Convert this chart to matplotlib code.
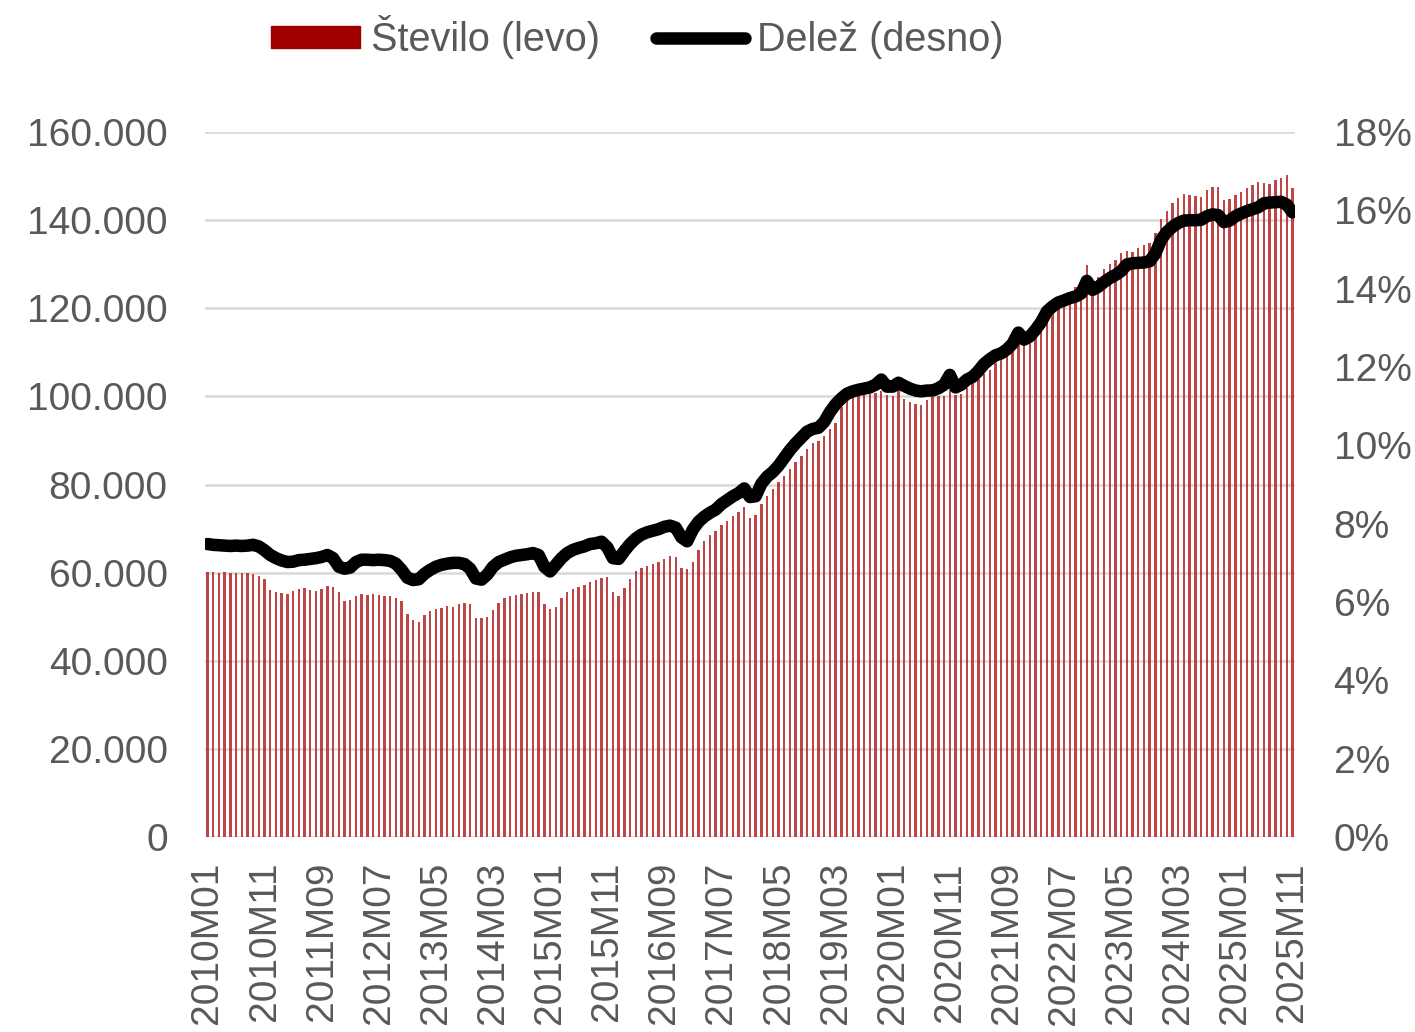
import matplotlib.pyplot as plt
from matplotlib.patches import Patch
import numpy as np

plt.rcParams['font.family'] = ['Liberation Sans', 'DejaVu Sans']

# monthly data 2010M01 .. 2025M11
stevilo = [
    # 2010
    60200, 60100, 60000, 60100, 60000, 60000, 59900, 59900, 59800, 59200, 58500, 56000,
    # 2011
    55600, 55300, 55200, 55800, 56200, 56500, 56000, 55900, 56200, 57000, 56800, 55500,
    # 2012
    53500, 53800, 54800, 55200, 55000, 55200, 54900, 54600, 54600, 54300, 53500, 50500,
    # 2013
    49300, 48800, 50300, 51200, 51800, 52000, 52500, 52300, 52800, 53200, 52800, 49800,
    # 2014
    49600, 50000, 51500, 53200, 54300, 54800, 55000, 55200, 55300, 55600, 55500, 52800,
    # 2015
    51800, 52300, 54200, 55500, 56200, 56800, 57200, 57800, 58300, 58800, 59000, 55500,
    # 2016
    54800, 56500, 58500, 60300, 61000, 61500, 62000, 62500, 63200, 63800, 63500, 61000,
    # 2017
    60800, 62500, 65200, 67200, 68500, 69500, 70800, 71800, 72800, 73800, 74800, 72500,
    # 2018
    73000, 75500, 77300, 79000, 80500, 82000, 83500, 85000, 86500, 88000, 89500, 89800,
    # 2019
    91000, 92500, 94000, 97500, 99000, 99800, 100200, 100500, 100600, 100800, 101200, 100400,
    # 2020
    100200, 101500, 99500, 98800, 98300, 98000, 99200, 99800, 100000, 100200, 101500, 100300,
    # 2021
    100500, 102000, 103000, 104000, 105000, 106000, 107500, 108500, 110000, 111000, 112500, 111800,
    # 2022
    113000, 114500, 116000, 117800, 119500, 121500, 121000, 123500, 124800, 125500, 129800, 126200,
    # 2023
    127000, 129000, 130000, 131000, 132500, 133000, 132800, 133800, 134300, 134800, 137000, 140300,
    # 2024
    142000, 143900, 145000, 146000, 145800, 145600, 145200, 146800, 147500, 147600, 144600, 144800,
    # 2025
    145700, 146500, 147300, 148000, 148700, 148500, 148200, 149200, 149600, 150200, 147300,
]

delez = [
    # 2010
    7.48, 7.46, 7.45, 7.44, 7.43, 7.44, 7.43, 7.44, 7.46, 7.42, 7.32, 7.20,
    # 2011
    7.12, 7.06, 7.02, 7.03, 7.07, 7.08, 7.10, 7.12, 7.15, 7.20, 7.12, 6.90,
    # 2012
    6.85, 6.88, 7.02, 7.08, 7.08, 7.07, 7.08, 7.07, 7.05, 6.98, 6.82, 6.62,
    # 2013
    6.56, 6.58, 6.72, 6.82, 6.90, 6.95, 6.98, 7.00, 7.00, 6.97, 6.85, 6.60,
    # 2014
    6.57, 6.70, 6.90, 7.02, 7.08, 7.14, 7.18, 7.20, 7.22, 7.25, 7.20, 6.90,
    # 2015
    6.78, 6.95, 7.12, 7.25, 7.33, 7.38, 7.42, 7.48, 7.50, 7.54, 7.40, 7.12,
    # 2016
    7.10, 7.30, 7.48, 7.62, 7.72, 7.78, 7.82, 7.86, 7.92, 7.95, 7.90, 7.65,
    # 2017
    7.55, 7.85, 8.05, 8.18, 8.28, 8.36, 8.50, 8.60, 8.70, 8.78, 8.90, 8.68,
    # 2018
    8.70, 9.02, 9.20, 9.32, 9.48, 9.68, 9.88, 10.05, 10.20, 10.35, 10.42, 10.45,
    # 2019
    10.60, 10.85, 11.05, 11.20, 11.32, 11.38, 11.42, 11.45, 11.48, 11.55, 11.68, 11.50,
    # 2020
    11.50, 11.60, 11.52, 11.45, 11.40, 11.38, 11.40, 11.40, 11.46, 11.55, 11.80, 11.48,
    # 2021
    11.55, 11.68, 11.75, 11.90, 12.08, 12.20, 12.30, 12.35, 12.45, 12.60, 12.88, 12.70,
    # 2022
    12.78, 12.95, 13.15, 13.42, 13.55, 13.65, 13.70, 13.76, 13.80, 13.88, 14.20, 13.97,
    # 2023
    14.05, 14.17, 14.27, 14.35, 14.45, 14.62, 14.65, 14.66, 14.67, 14.70, 14.90, 15.25,
    # 2024
    15.45, 15.58, 15.68, 15.74, 15.75, 15.75, 15.76, 15.85, 15.90, 15.88, 15.70, 15.74,
    # 2025
    15.85, 15.92, 15.98, 16.03, 16.08, 16.18, 16.20, 16.21, 16.22, 16.15, 15.95,
]

labels = [f"{2010 + k // 12}M{k % 12 + 1:02d}" for k in range(len(stevilo))]
x = np.arange(len(stevilo))

grey = '#595959'
red = '#a00000'
fs = 28

fig = plt.figure(figsize=(14.15, 10.32), dpi=100)
ax = fig.add_axes([0.145, 0.189, 0.770, 0.683])
ax2 = ax.twinx()

ax.bar(x, stevilo, width=0.42, color='#b01818', alpha=0.8, linewidth=0, zorder=2)
line, = ax2.plot(x, delez, color='black', linewidth=9, solid_capstyle='round',
                 solid_joinstyle='round')

ax.set_xlim(-0.4, len(x) - 0.6)
ax.set_ylim(0, 160000)
ax2.set_ylim(0, 18)

ax.set_yticks(np.arange(0, 160001, 20000))
ax.set_yticklabels([f"{v:,}".replace(',', '.') for v in range(0, 160001, 20000)])
ax2.set_yticks(np.arange(0, 19, 2))
ax2.set_yticklabels([f"{v}%" for v in range(0, 19, 2)])

ax.set_xticks(x[::10])
ax.set_xticklabels(labels[::10], rotation=90)

ax.grid(axis='y', color='#d9d9d9', linewidth=1.8, zorder=0)
ax.set_axisbelow(True)
for a in (ax, ax2):
    for s in a.spines.values():
        s.set_visible(False)
    a.tick_params(length=0, labelsize=fs, labelcolor=grey)
ax.tick_params(axis='y', pad=27)
ax2.tick_params(axis='y', pad=28)
ax.tick_params(axis='x', pad=18)

handles = [Patch(color=red), line]
fig.legend(handles, ['Število (levo)', 'Delež (desno)'], loc='upper left',
           bbox_to_anchor=(0.166, 1.02), ncol=2, frameon=False, fontsize=28.5,
           labelcolor=grey, handlelength=2.25, handleheight=0.5,
           handletextpad=0.3, columnspacing=1.4)

fig.savefig('out.png', dpi=100)
